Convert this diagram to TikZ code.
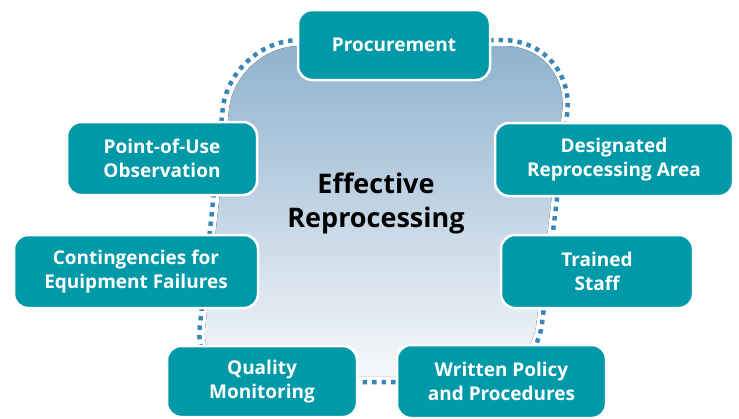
\documentclass[tikz,border=0pt]{standalone}
\usepackage{fontspec}
\setmainfont{Open Sans}
\definecolor{tealbox}{RGB}{0,153,168}
\definecolor{dotblue}{RGB}{58,135,181}
\definecolor{blobtop}{RGB}{143,178,206}
\definecolor{blobmid}{RGB}{180,202,223}
\definecolor{blobbot}{RGB}{246,248,251}
\begin{document}
\begin{tikzpicture}[x=1pt,y=-1pt,
  box/.style={draw=white, line width=2.5pt, fill=tealbox, rounded corners=14pt,
    text=white, font=\bfseries\fontsize{19}{24}\selectfont, align=center, inner sep=0pt},
  ringdots/.style={draw=dotblue, line width=4.5pt, dash pattern=on 4.5pt off 5pt},
  centertext/.style={font=\bfseries\fontsize{27}{34}\selectfont, align=center, text=black}]
\useasboundingbox (0,0) rectangle (739,418);
% central blob
\fill[top color=blobtop, middle color=blobmid, bottom color=blobbot]
  (400,46) [rounded corners=66pt] -- (570,46) [rounded corners=52pt] -- (530,376)
  [rounded corners=48pt] -- (200,376) [rounded corners=64pt] -- (236,46) -- cycle;
% dotted outline
\draw[ringdots]
  (400,40) [rounded corners=74pt] -- (576,40) [rounded corners=58pt] -- (535,382)
  [rounded corners=54pt] -- (194,382) [rounded corners=70pt] -- (230,40) -- cycle;
\node[centertext] (center) at (376,203) {Effective\\Reprocessing};
% boxes
\node[box, minimum width=192pt, minimum height=70pt] (proc) at (394,45) {Procurement};
\node[box, minimum width=190pt, minimum height=73pt] (pou) at (162,158.5) {Point-of-Use\\Observation};
\node[box, minimum width=238pt, minimum height=73pt] (dra) at (614,159.5) {Designated\\Reprocessing Area};
\node[box, minimum width=244pt, minimum height=73pt] (cont) at (136,271.5) {Contingencies for\\Equipment Failures};
\node[box, minimum width=192pt, minimum height=73pt] (ts) at (597,271.5) {Trained\\Staff};
\node[box, minimum width=190pt, minimum height=71pt] (qm) at (262,381.5) {Quality\\Monitoring};
\node[box, minimum width=209pt, minimum height=73pt] (wp) at (501.5,381.5) {Written Policy\\and Procedures};
\end{tikzpicture}
\end{document}
